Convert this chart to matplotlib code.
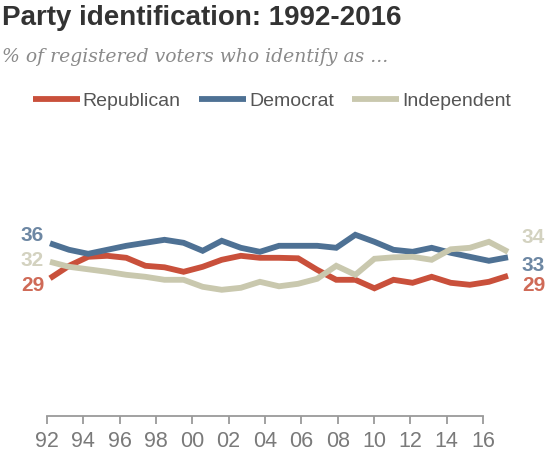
import numpy as np
import matplotlib
matplotlib.use('Agg')
import matplotlib.pyplot as plt

# values (% of registered voters)
years = np.arange(1992, 2017)
democrat = [36.0, 34.7, 33.9, 34.7, 35.5, 36.1, 36.7, 36.1, 34.5, 36.5, 35.1, 34.3, 35.5,
            35.5, 35.5, 35.1, 37.7, 36.3, 34.7, 34.3, 35.1, 34.1, 33.3, 32.5, 33.2]
republican = [29.0, 31.5, 33.3, 33.5, 33.1, 31.5, 31.2, 30.3, 31.3, 32.7, 33.5, 33.1, 33.1,
              33.0, 30.7, 28.7, 28.7, 27.0, 28.7, 28.1, 29.3, 28.1, 27.7, 28.3, 29.5]
independent = [32.3, 31.3, 30.8, 30.3, 29.7, 29.3, 28.7, 28.7, 27.3, 26.7, 27.1, 28.3, 27.4,
               27.9, 28.9, 31.5, 29.7, 32.9, 33.2, 33.3, 32.7, 34.8, 35.1, 36.3, 34.3]
start_labels = {'Republican': '29', 'Democrat': '36', 'Independent': '32'}
end_labels = {'Republican': '29', 'Democrat': '33', 'Independent': '34'}
tick_years = np.arange(1992, 2017, 2)
tick_labels = [f'{y % 100:02d}' for y in tick_years]

RED = '#c9503b'
BLUE = '#4e7194'
BEIGE = '#c9c8ae'
series = [
    ('Republican', republican, RED, '#cf6a57'),
    ('Democrat', democrat, BLUE, '#6d87a3'),
    ('Independent', independent, BEIGE, '#d3d2c0'),
]
# label offsets in pixels (start, end)
offsets = {
    'Republican': ((-6, -7), (14, -10)),
    'Democrat': ((-6, 8), (14, -8)),
    'Independent': ((-6, 1), (14, 14)),
}

W, H = 550, 457
fig = plt.figure(figsize=(W / 100, H / 100), dpi=100)

# data axes: 1992 at x=50px, 2016 at x=508px
ax = fig.add_axes([50 / W, 1 - 300 / H, 458 / W, 100 / H])
ax.set_xlim(1992, 2016)
ax.set_ylim(24.66, 44.66)
ax.axis('off')

handles = []
for name, vals, col, lcol in series:
    ln, = ax.plot(years, vals, color=col, lw=4.2, solid_joinstyle='miter',
                  solid_capstyle='butt', clip_on=False, label=name)
    handles.append(ln)
    (sdx, sdy), (edx, edy) = offsets[name]
    ax.annotate(start_labels[name], xy=(years[0], vals[0]), xytext=(sdx, sdy),
                textcoords='offset pixels', ha='right', va='center',
                fontsize=15, color=lcol, fontfamily='Liberation Sans',
                fontweight='bold', annotation_clip=False)
    ax.annotate(end_labels[name], xy=(years[-1], vals[-1]), xytext=(edx, edy),
                textcoords='offset pixels', ha='left', va='center',
                fontsize=15, color=lcol, fontfamily='Liberation Sans',
                fontweight='bold', annotation_clip=False)

# year ruler: 92 at x=47px, 16 at x=483px
axt = fig.add_axes([47 / W, 1 - 416 / H, 436 / W, 0.01])
axt.set_xlim(1992, 2016)
axt.set_yticks([])
for s in ['top', 'left', 'right']:
    axt.spines[s].set_visible(False)
axt.spines['bottom'].set_color('#9a9a9a')
axt.spines['bottom'].set_linewidth(1.3)
axt.patch.set_visible(False)
axt.set_xticks(tick_years)
axt.set_xticklabels(tick_labels, fontsize=15.5, color='#7a7a7a', fontfamily='Liberation Sans')
axt.tick_params(axis='x', length=5.5, width=1.3, color='#9a9a9a', pad=5)

fig.text(2 / W, 1 - 25 / H, 'Party identification: 1992-2016', fontsize=20,
         fontweight='bold', color='#333333', va='baseline', ha='left',
         fontfamily=['Liberation Sans Narrow', 'Liberation Sans'])
fig.text(2 / W, 1 - 62 / H, '% of registered voters who identify as ...', fontsize=13.5,
         style='italic', color='#8a8a8a', va='baseline', ha='left',
         fontfamily='DejaVu Serif')

fig.legend(handles=handles, loc='center', bbox_to_anchor=(272 / W, 1 - 101 / H),
           ncol=3, frameon=False, handlelength=2.4, handletextpad=0.15,
           columnspacing=0.95, labelcolor='#555555',
           prop={'family': 'Liberation Sans', 'size': 14})

fig.savefig('out.png', dpi=100)
